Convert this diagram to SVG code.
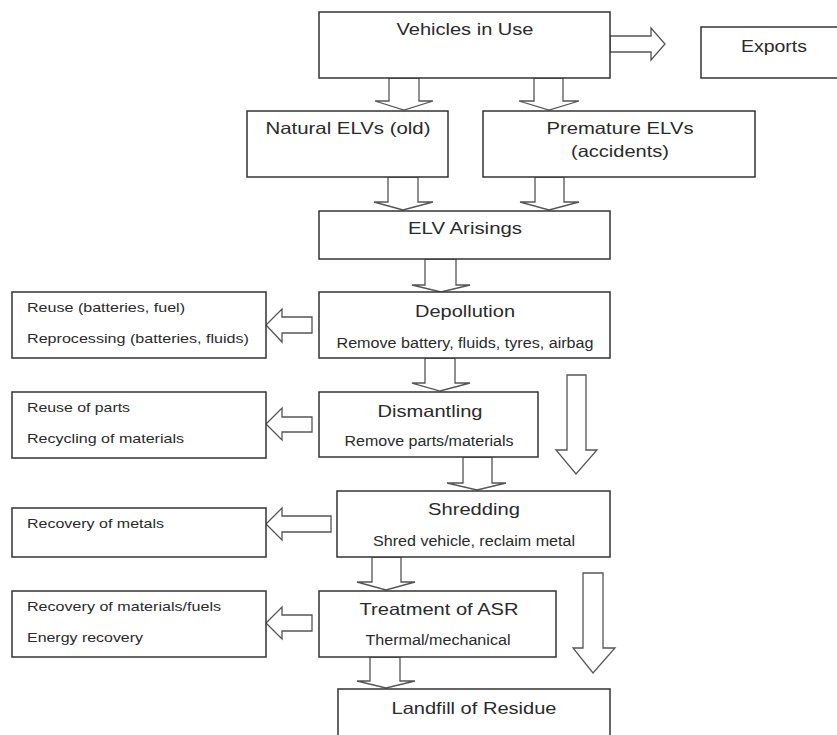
<svg xmlns="http://www.w3.org/2000/svg" width="837" height="735" viewBox="0 0 837 735">
<style>
.box{fill:#fff;stroke:#333;stroke-width:1.5}
.arr{fill:#fff;stroke:#555;stroke-width:1.3;stroke-linejoin:miter}
text{font-family:"Liberation Sans",Arial,sans-serif;fill:#2a2a2a}
.t{font-size:16.5px;text-anchor:middle}
.s{font-size:14px;text-anchor:middle}
.l{font-size:13.5px}
</style>
<rect width="837" height="735" fill="#fff"/>
<g id="connectors">
<polygon class="arr" points="389,78 419,78 419,101 433,101 404,110 375,101 389,101"/>
<polygon class="arr" points="534,78 563,78 563,101 579,101 549,110 519,101 534,101"/>
<polygon class="arr" points="610,36 651,36 651,28 665,44 651,60 651,52 610,52"/>
<polygon class="arr" points="388,177 418,177 418,202 433,202 403,210 374,202 388,202"/>
<polygon class="arr" points="535,177 564,177 564,202 579,202 549,210 520,202 535,202"/>
<polygon class="arr" points="425,259 456,259 456,285 470,285 441,292 412,285 425,285"/>
<polygon class="arr" points="425,358 455,358 455,383 470,383 440,391 412,383 425,383"/>
<polygon class="arr" points="463,457 492,457 492,483 506,483 477,490 447,483 463,483"/>
<polygon class="arr" points="372,557 401,557 401,582 415,582 386,590 357,582 372,582"/>
<polygon class="arr" points="370,657 400,657 400,681 415,681 386,688 357,681 370,681"/>
<polygon class="arr" points="312,317 312,333 282,333 282,342 266,325 282,309 282,317"/>
<polygon class="arr" points="312,417 312,432 282,432 282,440 266,424 282,408 282,417"/>
<polygon class="arr" points="331,516 331,532 282,532 282,540 266,524 282,508 282,516"/>
<polygon class="arr" points="312,615 312,631 282,631 282,639 266,623 282,607 282,615"/>
<polygon class="arr" points="567,375 586,375 586,450 597,450 576,474 556,450 567,450"/>
<polygon class="arr" points="583,573 603,573 603,648 615,648 593,673 573,648 583,648"/>
</g>
<g id="vehicles"><rect class="box" x="319" y="12" width="291" height="66"/><text class="t" x="465" y="35" textLength="137" lengthAdjust="spacingAndGlyphs">Vehicles in Use</text></g>
<g id="exports"><rect class="box" x="701" y="27" width="150" height="51"/><text class="t" x="774" y="52" textLength="66" lengthAdjust="spacingAndGlyphs">Exports</text></g>
<g id="natural"><rect class="box" x="247" y="111" width="201" height="66"/><text class="t" x="348" y="134" textLength="165" lengthAdjust="spacingAndGlyphs">Natural ELVs (old)</text></g>
<g id="premature"><rect class="box" x="483" y="111" width="272" height="66"/><text class="t" x="620" y="134" textLength="147" lengthAdjust="spacingAndGlyphs">Premature ELVs</text><text class="t" x="620" y="157" textLength="98" lengthAdjust="spacingAndGlyphs">(accidents)</text></g>
<g id="arisings"><rect class="box" x="319" y="211" width="291" height="48"/><text class="t" x="465" y="234" textLength="114" lengthAdjust="spacingAndGlyphs">ELV Arisings</text></g>
<g id="depollution"><rect class="box" x="319" y="292" width="291" height="66"/><text class="t" x="465" y="317" textLength="100" lengthAdjust="spacingAndGlyphs">Depollution</text><text class="s" x="465" y="348" textLength="257" lengthAdjust="spacingAndGlyphs">Remove battery, fluids, tyres, airbag</text></g>
<g id="dismantling"><rect class="box" x="319" y="392" width="219" height="65"/><text class="t" x="430" y="417" textLength="105" lengthAdjust="spacingAndGlyphs">Dismantling</text><text class="s" x="429" y="446" textLength="169" lengthAdjust="spacingAndGlyphs">Remove parts/materials</text></g>
<g id="shredding"><rect class="box" x="337" y="491" width="273" height="66"/><text class="t" x="474" y="515" textLength="92" lengthAdjust="spacingAndGlyphs">Shredding</text><text class="s" x="474" y="546" textLength="202" lengthAdjust="spacingAndGlyphs">Shred vehicle, reclaim metal</text></g>
<g id="treatment"><rect class="box" x="319" y="591" width="237" height="66"/><text class="t" x="439" y="615" textLength="159" lengthAdjust="spacingAndGlyphs">Treatment of ASR</text><text class="s" x="438" y="645" textLength="145" lengthAdjust="spacingAndGlyphs">Thermal/mechanical</text></g>
<g id="landfill"><rect class="box" x="338" y="689" width="272" height="70"/><text class="t" x="474" y="714" textLength="165" lengthAdjust="spacingAndGlyphs">Landfill of Residue</text></g>
<g id="reuse"><rect class="box" x="12" y="292" width="254" height="66"/><text class="l" x="27" y="312" textLength="158" lengthAdjust="spacingAndGlyphs">Reuse (batteries, fuel)</text><text class="l" x="27" y="343" textLength="222" lengthAdjust="spacingAndGlyphs">Reprocessing (batteries, fluids)</text></g>
<g id="parts"><rect class="box" x="12" y="392" width="254" height="66"/><text class="l" x="27" y="412" textLength="103" lengthAdjust="spacingAndGlyphs">Reuse of parts</text><text class="l" x="27" y="443" textLength="157" lengthAdjust="spacingAndGlyphs">Recycling of materials</text></g>
<g id="metals"><rect class="box" x="12" y="508" width="254" height="49"/><text class="l" x="27" y="528" textLength="137" lengthAdjust="spacingAndGlyphs">Recovery of metals</text></g>
<g id="materials"><rect class="box" x="12" y="591" width="254" height="66"/><text class="l" x="27" y="611" textLength="194" lengthAdjust="spacingAndGlyphs">Recovery of materials/fuels</text><text class="l" x="27" y="642" textLength="116" lengthAdjust="spacingAndGlyphs">Energy recovery</text></g>
</svg>
